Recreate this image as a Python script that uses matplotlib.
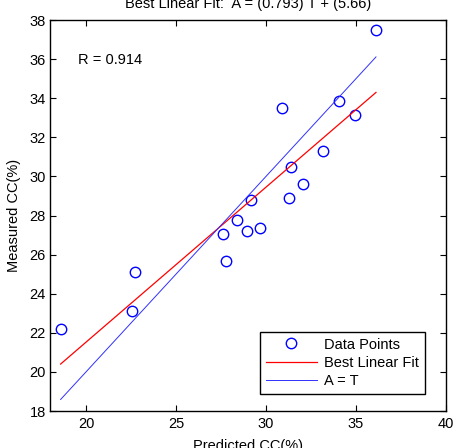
import matplotlib
matplotlib.use('Agg')
import matplotlib.pyplot as plt
import numpy as np

plt.rcParams['font.family'] = ['Liberation Sans', 'DejaVu Sans']

# データ (予測値 T, 実測値 A)
predicted = [36.11, 34.06, 34.96, 30.91, 33.17, 31.37, 32.06, 31.30, 29.17,
             28.41, 27.63, 28.93, 29.69, 27.78, 22.70, 22.57, 18.59]
measured = [37.47, 33.86, 33.16, 33.52, 31.30, 30.48, 29.59, 28.90, 28.78,
            27.77, 27.07, 27.19, 27.38, 25.67, 25.09, 23.12, 22.18]
slope = 0.793
intercept = 5.66
r_value = 0.914

fs = 10.5

fig = plt.figure(figsize=(4.53, 4.48), dpi=100)
ax = fig.add_axes([50 / 453, 37 / 448, 396 / 453, 391 / 448])

t = np.array([min(predicted), max(predicted)])
ax.plot(predicted, measured, 'o', mfc='none', mec='b', ms=7.5, mew=1.0, label='Data Points')
ax.plot(t, slope * t + intercept, color='r', lw=0.9, label='Best Linear Fit')
ax.plot(t, t, color='#3030ff', lw=0.7, label='A = T')

ax.text(19.55, 35.95, 'R = %.3f' % r_value, fontsize=fs, va='center')

ax.set_xlim(18, 40)
ax.set_ylim(18, 38)
ax.set_xticks([20, 25, 30, 35, 40])
ax.set_yticks(range(18, 39, 2))
ax.tick_params(direction='in', top=True, right=True, labelsize=fs, length=4, pad=4)
ax.tick_params(axis='y', pad=3)
for s in ax.spines.values():
    s.set_linewidth(1.0)

ax.set_title('Best Linear Fit:  A = (%.3f) T + (%.2f)' % (slope, intercept), fontsize=fs, pad=9)
ax.set_xlabel('Predicted CC(%)', fontsize=fs, labelpad=6)
ax.set_ylabel('Measured CC(%)', fontsize=fs, labelpad=6)

# 凡例 (右下)
leg = ax.legend(loc='lower right', bbox_to_anchor=(0.947, 0.043), fontsize=fs,
                fancybox=False, framealpha=1, edgecolor='k', borderaxespad=0,
                handlelength=3.5, borderpad=0.4, labelspacing=0.3, handletextpad=0.5)
leg.get_frame().set_linewidth(1.0)

plt.savefig('out.png', dpi=100)
